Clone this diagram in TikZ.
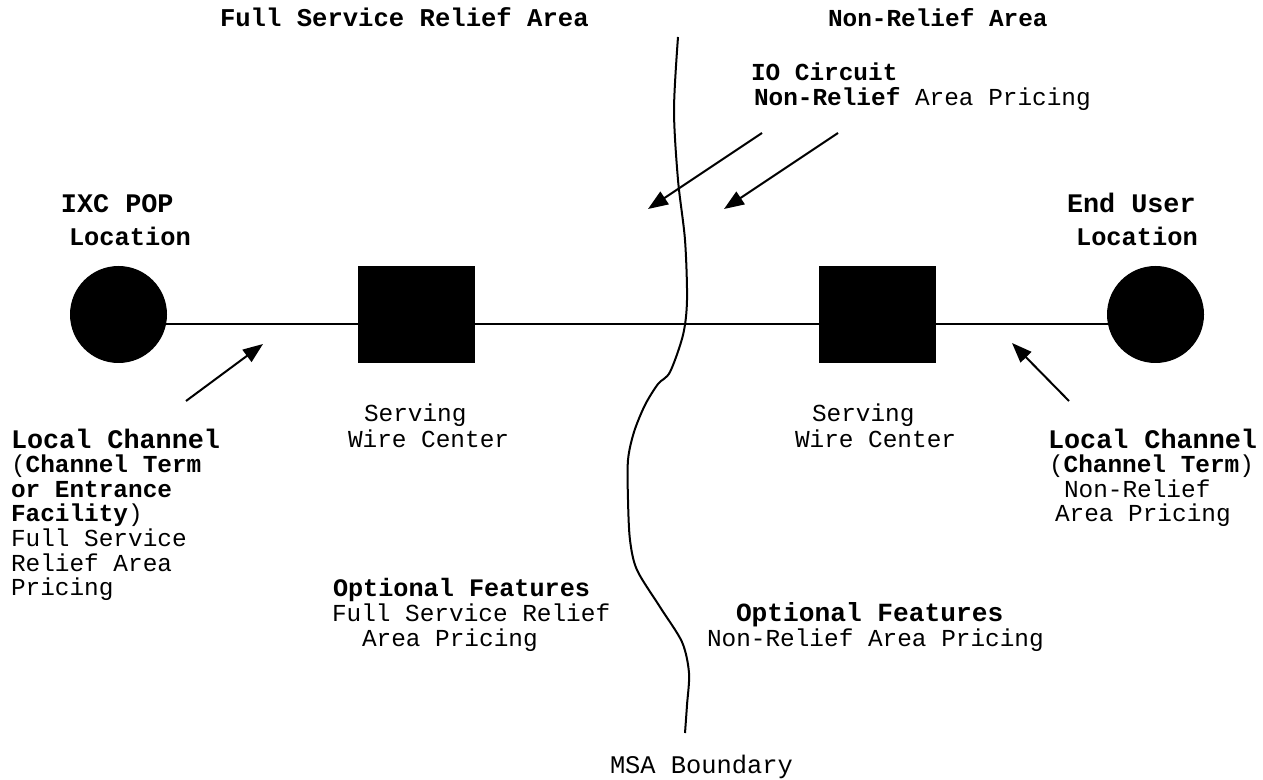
\documentclass[tikz,border=0pt]{standalone}
\usepackage{fontspec}
\setmainfont{Liberation Mono}
\usetikzlibrary{arrows.meta}
\newcommand\fsT{\fontsize{12.8pt}{13pt}\selectfont}
\newcommand\fsS{\fontsize{12.2pt}{13pt}\selectfont}
\newcommand\fsB{\fontsize{13.4pt}{14pt}\selectfont}
\newcommand\fsM{\fontsize{12.7pt}{13pt}\selectfont}
\newcommand\fsO{\fontsize{12.6pt}{13pt}\selectfont}
\newcommand\fsP{\fontsize{13.1pt}{14pt}\selectfont}
\tikzset{
  txt/.style={anchor=base west, inner sep=0pt, outer sep=0pt, font=\fsS},
  site/.style={circle, fill=black, draw=none, minimum size=48.5pt, inner sep=0pt},
  wirectr/.style={rectangle, fill=black, draw=none, minimum width=58.5pt, minimum height=48.5pt, inner sep=0pt},
  link/.style={line width=1pt},
  pointer/.style={line width=1pt, -{Triangle[length=10pt, width=7.5pt]}},
  boundary/.style={line width=1pt}
}
\begin{document}
\begin{tikzpicture}[x=0.5pt, y=-0.5pt]
\useasboundingbox (0,0) rectangle (1263,780);
% sites and wire centers
\node[site] (c1) at (118.5,314.5) {};
\node[wirectr] (s1) at (416.5,314.5) {};
\node[wirectr] (s2) at (877,314.5) {};
\node[site] (c2) at (1155.5,314.5) {};
\draw[link] ([yshift=-4.75pt]c1.center) -- ([yshift=-4.75pt]s1.center);
\draw[link] ([yshift=-4.75pt]s1.center) -- ([yshift=-4.75pt]s2.center);
\draw[link] ([yshift=-4.75pt]s2.center) -- ([yshift=-4.75pt]c2.center);
% MSA boundary
\draw[boundary] plot[smooth, tension=0.5] coordinates {(678,37) (674,110) (678,180) (685,240) (687,300) (683,335) (670,372) (658,384) (645,405) (634,432) (628,460) (628,500) (630,540) (637,570) (660,607) (682,642) (689,673) (687,705) (685,733)};
% arrows
\coordinate (a1s) at (186,401); \coordinate (a1e) at (263,344);
\coordinate (a2s) at (1069,401); \coordinate (a2e) at (1012,343);
\coordinate (a3s) at (762,133); \coordinate (a3e) at (648,209);
\coordinate (a4s) at (838,133); \coordinate (a4e) at (724,209);
\draw[pointer] (a1s) -- (a1e);
\draw[pointer] (a2s) -- (a2e);
\draw[pointer] (a3s) -- (a3e);
\draw[pointer] (a4s) -- (a4e);
% texts
\node[txt, font=\fsT] (t1) at (220,27) {\textbf{Full Service Relief Area}};
\node[txt, font=\fsS] (t2) at (828,27) {\textbf{Non-Relief Area}};
\node[txt] (t3) at (751,81) {\textbf{IO Circuit}};
\node[txt] (t4) at (754,106) {\textbf{Non-Relief} Area Pricing};
\node[txt, font=\fsB] (t5) at (61,213) {\textbf{IXC POP}};
\node[txt, font=\fsM] (t6) at (69,246) {\textbf{Location}};
\node[txt, font=\fsB] (t7) at (1067,213) {\textbf{End User}};
\node[txt, font=\fsM] (t8) at (1076,246) {\textbf{Location}};
\node[txt] (t9) at (364,422) {Serving};
\node[txt] (t10) at (348,447) {Wire Center};
\node[txt] (t11) at (812,422) {Serving};
\node[txt] (t12) at (795,447) {Wire Center};
\node[txt, font=\fsB] (l1) at (11,448) {\textbf{Local Channel}};
\node[txt] (l2) at (11,473) {(\textbf{Channel Term}};
\node[txt] (l3) at (11,497) {\textbf{or Entrance}};
\node[txt] (l4) at (11,521) {\textbf{Facility})};
\node[txt] (l5) at (11,546) {Full Service};
\node[txt] (l6) at (11,571) {Relief Area};
\node[txt] (l7) at (11,595) {Pricing};
\node[txt, font=\fsB] (r1) at (1048,449) {\textbf{Local Channel}};
\node[txt] (r2) at (1049,473) {(\textbf{Channel Term})};
\node[txt] (r3) at (1064,497) {Non-Relief};
\node[txt] (r4) at (1055,521) {Area Pricing};
\node[txt, font=\fsO] (o1) at (333,596) {\textbf{Optional Features}};
\node[txt] (o2) at (332,621) {Full Service Relief};
\node[txt] (o3) at (362,646) {Area Pricing};
\node[txt, font=\fsP] (p1) at (736,621) {\textbf{Optional Features}};
\node[txt] (p2) at (707,646) {Non-Relief Area Pricing};
\node[txt, font=\fsM] (msa) at (610,773) {MSA Boundary};
\end{tikzpicture}
\end{document}
